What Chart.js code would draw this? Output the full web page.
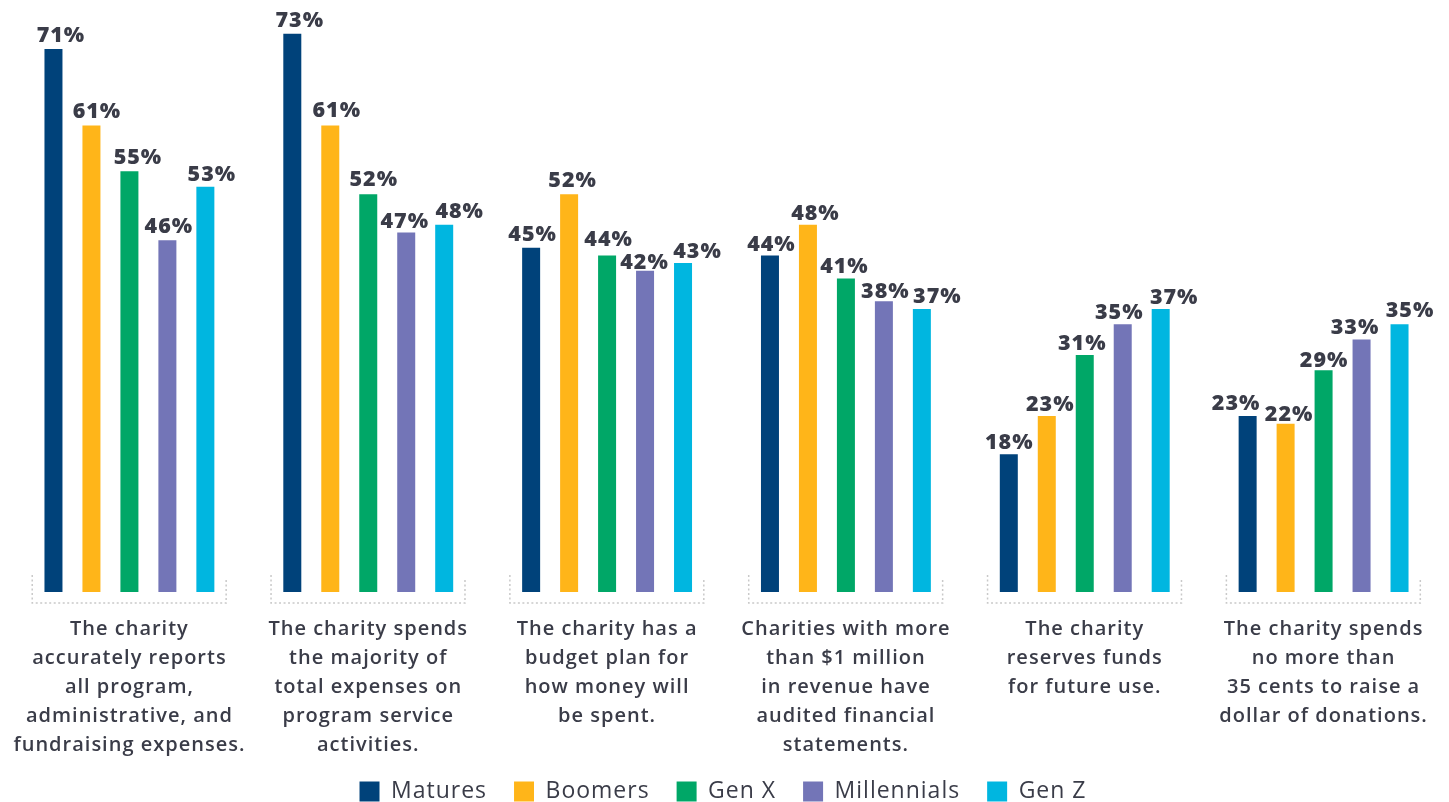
<!DOCTYPE html>
<html>
<head>
<meta charset="utf-8">
<script src="https://cdn.jsdelivr.net/npm/chart.js@4"></script>
<style>
html,body{margin:0;padding:0;background:#fff;}
#wrap{width:1449px;height:802px;}
</style>
</head>
<body>
<div id="wrap"><canvas id="c" width="1449" height="802"></canvas></div>
<script>
const categories = [
  ["The charity","accurately reports","all program,","administrative, and","fundraising expenses."],
  ["The charity spends","the majority of","total expenses on","program service","activities."],
  ["The charity has a","budget plan for","how money will","be spent."],
  ["Charities with more","than $1 million","in revenue have","audited financial","statements."],
  ["The charity","reserves funds","for future use."],
  ["The charity spends","no more than","35 cents to raise a","dollar of donations."]
];
const seriesNames = ["Matures","Boomers","Gen X","Millennials","Gen Z"];
const matures     = [71, 73, 45, 44, 18, 23];
const boomers     = [61, 61, 52, 48, 23, 22];
const genX        = [55, 52, 44, 41, 31, 29];
const millennials = [46, 47, 42, 38, 35, 33];
const genZ        = [53, 48, 43, 37, 37, 35];
const colors = ["#00427a","#ffb519","#00a767","#7375b7","#00b6e0"];
const seriesValues = [matures, boomers, genX, millennials, genZ];

// value-label nudges (style only), per category, per series
const labelShiftX = [
  [7, 5, 8, 1, 6],
  [7, 6, 5, -2, 15],
  [1, 3, 1, -1, 14],
  [1, 7, -2, 1, 15],
  [0, 3, -3, -4, 13],
  [-12, 3, 0, -7, 10]
];
const labelGap = [
  [7, 7, 7, 7, 6],
  [7, 8, 8, 5, 7],
  [7, 7, 9, 2, 5],
  [4, 5, 5, 3, 6],
  [5, 5, 5, 5, 5],
  [6, 3, 3, 6, 7]
];

const TEXT = "#3a3c48";
const FONT = "'Open Sans', 'DejaVu Sans', sans-serif";

const spacing = {
  id: 'spacing',
  beforeLayout(chart) { chart.ctx.letterSpacing = '1px'; },
  beforeDraw(chart) { chart.ctx.letterSpacing = '1px'; }
};

const valueLabels = {
  id: 'valueLabels',
  afterDatasetsDraw(chart) {
    const ctx = chart.ctx;
    ctx.save();
    ctx.fillStyle = TEXT;
    ctx.font = "800 21.5px " + FONT;
    ctx.letterSpacing = '1px';
    ctx.textAlign = 'center';
    ctx.textBaseline = 'alphabetic';
    chart.data.datasets.forEach((ds, di) => {
      const meta = chart.getDatasetMeta(di);
      meta.data.forEach((bar, i) => {
        ctx.fillText(ds.data[i] + '%', bar.x + 0.5 + labelShiftX[i][di], bar.y - labelGap[i][di]);
      });
    });
    ctx.restore();
  }
};

const brackets = {
  id: 'brackets',
  beforeDatasetsDraw(chart) {
    const ctx = chart.ctx;
    const xs = chart.scales.x;
    const bottom = chart.chartArea.bottom;
    const cw = xs.getPixelForValue(1) - xs.getPixelForValue(0);
    ctx.save();
    ctx.strokeStyle = "#c9c9c9";
    ctx.lineWidth = 1.5;
    ctx.setLineDash([2, 2.5]);
    categories.forEach((c, i) => {
      const cx = xs.getPixelForValue(i);
      const l = cx - cw * 0.407, r = cx + cw * 0.405;
      const y = bottom + 11;
      ctx.beginPath();
      ctx.moveTo(l, bottom - 17);
      ctx.lineTo(l, y);
      ctx.lineTo(r, y);
      ctx.lineTo(r, bottom - 14);
      ctx.stroke();
    });
    ctx.restore();
  }
};

new Chart(document.getElementById('c'), {
  type: 'bar',
  data: {
    labels: categories,
    datasets: seriesNames.map((n, i) => ({
      label: n,
      data: seriesValues[i],
      backgroundColor: colors[i],
      borderWidth: 0,
      categoryPercentage: 0.795,
      barPercentage: 0.474
    }))
  },
  options: {
    responsive: false,
    animation: false,
    layout: { padding: { left: 10, right: 6, top: 0, bottom: -11 } },
    plugins: {
      legend: {
        position: 'bottom',
        labels: {
          boxWidth: 20, boxHeight: 20, padding: 20,
          color: TEXT,
          font: { family: FONT, size: 23, weight: '500' },
          generateLabels(chart) {
            const items = Chart.defaults.plugins.legend.labels.generateLabels(chart);
            items.forEach(it => { it.text = it.text + ' '; });
            return items;
          }
        }
      },
      tooltip: { enabled: false }
    },
    scales: {
      y: { display: false, min: 0, max: 77.4 },
      x: {
        grid: { display: false, drawTicks: false },
        border: { display: false },
        ticks: {
          color: TEXT, padding: 23, maxRotation: 0, autoSkip: false,
          font: { family: FONT, size: 20, weight: '600', lineHeight: 29/20 }
        },
        afterFit(s) {
          s.height = 168;
          s.paddingLeft = 0;
          s.paddingRight = 0;
        }
      }
    }
  },
  plugins: [spacing, brackets, valueLabels]
});
</script>
</body>
</html>
